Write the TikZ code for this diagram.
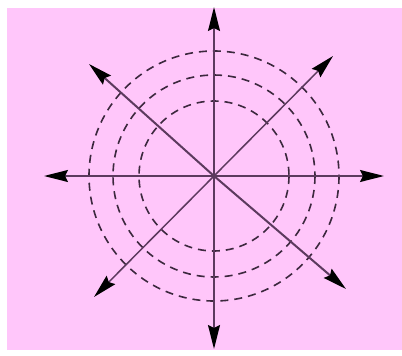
\documentclass[tikz,border=0pt]{standalone}
\usetikzlibrary{arrows.meta}
\definecolor{bgpink}{RGB}{255,198,250}
\definecolor{axis}{RGB}{92,58,94}
\definecolor{ring}{RGB}{60,40,62}
\tikzset{
  ray/.style={draw=axis, line width=1.5pt, -{Stealth[length=24pt,width=12pt,inset=3pt,black]}},
  thickray/.style={ray, line width=2pt},
  ringline/.style={draw=ring, line width=1.6pt, dash pattern=on 8pt off 6pt}
}
\begin{document}
\begin{tikzpicture}[x=1pt,y=-1pt]
\useasboundingbox (0,0) rectangle (402,356);
\fill[white] (0,0) rectangle (402,356);
\fill[bgpink] (7,8) rectangle (402,350);
\coordinate (c) at (214,176);
\coordinate (e) at (384,176);
\coordinate (w) at (44,176);
\coordinate (n) at (214,7);
\coordinate (s) at (214,349);
\coordinate (ne) at (333,56);
\coordinate (sw) at (94,297);
\coordinate (nw) at (89,64);
\coordinate (se) at (346,289);
\draw[ringline] (c) circle[radius=75];
\draw[ringline] (c) circle[radius=101];
\draw[ringline] (c) circle[radius=125];
\draw[ray] (c) -- (e);
\draw[ray] (c) -- (w);
\draw[ray] (c) -- (n);
\draw[ray] (c) -- (s);
\draw[ray] (c) -- (ne);
\draw[ray] (c) -- (sw);
\draw[thickray] (c) -- (nw);
\draw[thickray] (c) -- (se);
\end{tikzpicture}
\end{document}
